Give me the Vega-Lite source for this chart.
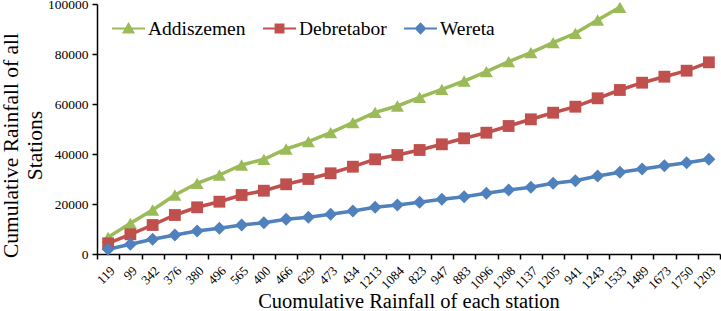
{
  "$schema": "https://vega.github.io/schema/vega-lite/v6.json",
  "width": 623,
  "height": 250,
  "autosize": {"type": "none"},
  "padding": {"left": 97, "top": 4, "right": 1, "bottom": 57},
  "background": "white",
  "config": {
    "view": {"stroke": null},
    "font": "Liberation Serif"
  },
  "data": {
    "values": [
      {"station": "Addiszemen", "x": "119", "v": 6680},
      {"station": "Addiszemen", "x": "99", "v": 12280},
      {"station": "Addiszemen", "x": "342", "v": 17600},
      {"station": "Addiszemen", "x": "376", "v": 23600},
      {"station": "Addiszemen", "x": "380", "v": 28280},
      {"station": "Addiszemen", "x": "496", "v": 31600},
      {"station": "Addiszemen", "x": "565", "v": 35600},
      {"station": "Addiszemen", "x": "400", "v": 37880},
      {"station": "Addiszemen", "x": "466", "v": 42000},
      {"station": "Addiszemen", "x": "629", "v": 44920},
      {"station": "Addiszemen", "x": "473", "v": 48520},
      {"station": "Addiszemen", "x": "434", "v": 52520},
      {"station": "Addiszemen", "x": "1213", "v": 56680},
      {"station": "Addiszemen", "x": "1084", "v": 59200},
      {"station": "Addiszemen", "x": "823", "v": 62680},
      {"station": "Addiszemen", "x": "947", "v": 65880},
      {"station": "Addiszemen", "x": "883", "v": 69200},
      {"station": "Addiszemen", "x": "1096", "v": 72920},
      {"station": "Addiszemen", "x": "1208", "v": 76920},
      {"station": "Addiszemen", "x": "1137", "v": 80520},
      {"station": "Addiszemen", "x": "1205", "v": 84520},
      {"station": "Addiszemen", "x": "941", "v": 88280},
      {"station": "Addiszemen", "x": "1243", "v": 93600},
      {"station": "Addiszemen", "x": "1533", "v": 98680},
      {"station": "Debretabor", "x": "119", "v": 4280},
      {"station": "Debretabor", "x": "99", "v": 7880},
      {"station": "Debretabor", "x": "342", "v": 11600},
      {"station": "Debretabor", "x": "376", "v": 15600},
      {"station": "Debretabor", "x": "380", "v": 18680},
      {"station": "Debretabor", "x": "496", "v": 20920},
      {"station": "Debretabor", "x": "565", "v": 23600},
      {"station": "Debretabor", "x": "400", "v": 25320},
      {"station": "Debretabor", "x": "466", "v": 27880},
      {"station": "Debretabor", "x": "629", "v": 30000},
      {"station": "Debretabor", "x": "473", "v": 32280},
      {"station": "Debretabor", "x": "434", "v": 34920},
      {"station": "Debretabor", "x": "1213", "v": 37880},
      {"station": "Debretabor", "x": "1084", "v": 39600},
      {"station": "Debretabor", "x": "823", "v": 41600},
      {"station": "Debretabor", "x": "947", "v": 43880},
      {"station": "Debretabor", "x": "883", "v": 46280},
      {"station": "Debretabor", "x": "1096", "v": 48520},
      {"station": "Debretabor", "x": "1208", "v": 51200},
      {"station": "Debretabor", "x": "1137", "v": 53880},
      {"station": "Debretabor", "x": "1205", "v": 56520},
      {"station": "Debretabor", "x": "941", "v": 58920},
      {"station": "Debretabor", "x": "1243", "v": 62280},
      {"station": "Debretabor", "x": "1533", "v": 65600},
      {"station": "Debretabor", "x": "1489", "v": 68520},
      {"station": "Debretabor", "x": "1673", "v": 70920},
      {"station": "Debretabor", "x": "1750", "v": 73320},
      {"station": "Debretabor", "x": "1203", "v": 76680},
      {"station": "Wereta", "x": "119", "v": 1880},
      {"station": "Wereta", "x": "99", "v": 3880},
      {"station": "Wereta", "x": "342", "v": 5880},
      {"station": "Wereta", "x": "376", "v": 7600},
      {"station": "Wereta", "x": "380", "v": 9200},
      {"station": "Wereta", "x": "496", "v": 10280},
      {"station": "Wereta", "x": "565", "v": 11600},
      {"station": "Wereta", "x": "400", "v": 12520},
      {"station": "Wereta", "x": "466", "v": 13880},
      {"station": "Wereta", "x": "629", "v": 14680},
      {"station": "Wereta", "x": "473", "v": 15880},
      {"station": "Wereta", "x": "434", "v": 17200},
      {"station": "Wereta", "x": "1213", "v": 18680},
      {"station": "Wereta", "x": "1084", "v": 19600},
      {"station": "Wereta", "x": "823", "v": 20680},
      {"station": "Wereta", "x": "947", "v": 21880},
      {"station": "Wereta", "x": "883", "v": 22920},
      {"station": "Wereta", "x": "1096", "v": 24280},
      {"station": "Wereta", "x": "1208", "v": 25600},
      {"station": "Wereta", "x": "1137", "v": 26680},
      {"station": "Wereta", "x": "1205", "v": 28280},
      {"station": "Wereta", "x": "941", "v": 29320},
      {"station": "Wereta", "x": "1243", "v": 31200},
      {"station": "Wereta", "x": "1533", "v": 32680},
      {"station": "Wereta", "x": "1489", "v": 34000},
      {"station": "Wereta", "x": "1673", "v": 35320},
      {"station": "Wereta", "x": "1750", "v": 36520},
      {"station": "Wereta", "x": "1203", "v": 37880}
    ]
  },
  "encoding": {
    "x": {
      "field": "x",
      "type": "ordinal",
      "sort": null,
      "scale": {"type": "band", "paddingInner": 0, "paddingOuter": 0},
      "axis": {
        "title": "Cuomulative Rainfall of each station",
        "titleFontSize": 20.5,
        "titleFontWeight": "normal",
        "titleFont": "Liberation Serif",
        "titleColor": "black",
        "titleY": 53,
        "titleBaseline": "alphabetic",
        "labelAngle": -45,
        "labelFontSize": 13,
        "labelFont": "Liberation Serif",
        "labelColor": "black",
        "labelPadding": 5,
        "tickBand": "extent",
        "tickSize": 5,
        "tickColor": "black",
        "tickWidth": 1.5,
        "domainColor": "black",
        "domainWidth": 1.5,
        "grid": false
      }
    },
    "y": {
      "field": "v",
      "type": "quantitative",
      "scale": {"domain": [0, 100000], "nice": false},
      "axis": {
        "title": ["Cumulative Rainfall of all", "Stations"],
        "titleFontSize": 21.5,
        "titleFontWeight": "normal",
        "titleFont": "Liberation Serif",
        "titleColor": "black",
        "titleLineHeight": 24,
        "titleAngle": -90,
        "titleX": -97,
        "titleY": 141,
        "titleBaseline": "top",
        "titleAlign": "center",
        "values": [0, 20000, 40000, 60000, 80000, 100000],
        "format": "d",
        "labelFontSize": 13.5,
        "labelFont": "Liberation Serif",
        "labelColor": "black",
        "labelPadding": 4,
        "tickSize": 5,
        "tickColor": "black",
        "tickWidth": 1.5,
        "domainColor": "black",
        "domainWidth": 1.5,
        "grid": false
      }
    },
    "color": {
      "field": "station",
      "type": "nominal",
      "scale": {
        "domain": ["Addiszemen", "Debretabor", "Wereta"],
        "range": ["#9BBB59", "#C0504D", "#4F81BD"]
      },
      "legend": {
        "title": null,
        "orient": "none",
        "legendX": 15,
        "legendY": 8,
        "padding": 0,
        "direction": "horizontal",
        "labelFontSize": 19.5,
        "labelFont": "Liberation Serif",
        "labelColor": "black",
        "labelOffset": 3,
        "columnPadding": 17,
        "symbolSize": 1089,
        "symbolStrokeWidth": 0,
        "symbolOpacity": 1
      }
    }
  },
  "layer": [
    {
      "mark": {"type": "point", "filled": true, "opacity": 1, "size": 0},
      "encoding": {
        "shape": {
          "field": "station",
          "type": "nominal",
          "scale": {
            "domain": ["Addiszemen", "Debretabor", "Wereta"],
            "range": [
              "M-1,-0.055L1,-0.055L1,0.055L-1,0.055Z M0,-0.4L0.4,0.3L-0.4,0.3Z",
              "M-1,-0.055L1,-0.055L1,0.055L-1,0.055Z M-0.3,-0.3L0.3,-0.3L0.3,0.3L-0.3,0.3Z",
              "M-1,-0.055L1,-0.055L1,0.055L-1,0.055Z M0,-0.38L0.36,0L0,0.38L-0.36,0Z"
            ]
          }
        }
      }
    },
    {
      "mark": {"type": "line", "strokeWidth": 3.5},
      "encoding": {"detail": {"field": "station"}}
    },
    {
      "transform": [{"filter": "datum.station === 'Addiszemen'"}],
      "mark": {"type": "point", "shape": "triangle-up", "filled": true, "opacity": 1, "size": 170}
    },
    {
      "transform": [{"filter": "datum.station === 'Debretabor'"}],
      "mark": {"type": "point", "shape": "square", "filled": true, "opacity": 1, "size": 140}
    },
    {
      "transform": [{"filter": "datum.station === 'Wereta'"}],
      "mark": {"type": "point", "shape": "diamond", "filled": true, "opacity": 1, "size": 170}
    }
  ]
}
